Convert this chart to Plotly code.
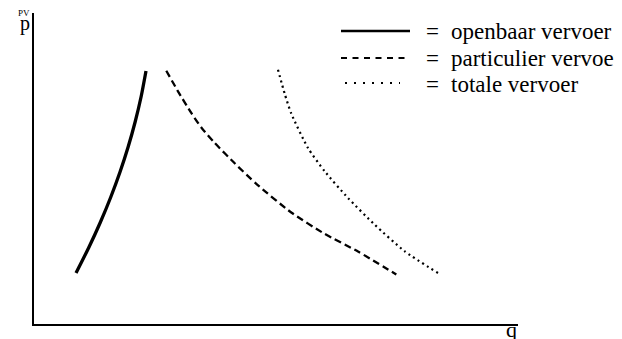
import plotly.graph_objects as go

# Data (arbitrary units; axis range 0..100 on both axes)
q_openbaar = [8.68, 11.30, 13.69, 15.85, 17.77, 19.46, 20.92, 22.15, 23.14]
p_openbaar = [16.40, 24.52, 32.64, 40.76, 48.87, 56.99, 65.11, 73.23, 81.35]

q_particulier = [27.33, 29.75, 32.50, 34.57, 37.33, 41.47, 45.93, 53.16, 60.06, 66.94, 74.86]
p_particulier = [81.45, 74.82, 67.85, 63.18, 58.23, 51.67, 45.08, 35.85, 28.97, 23.31, 15.92]

q_totaal = [50.41, 51.80, 53.16, 56.61, 60.06, 64.88, 70.39, 76.59, 83.47]
p_totaal = [81.77, 74.02, 67.65, 56.59, 49.10, 40.51, 31.93, 23.38, 16.40]

legend_labels = ["openbaar vervoer", "particulier vervoer", "totale vervoer"]

FONT = "Liberation Serif, Times New Roman, serif"

# plot-area geometry in pixels
L, R, T, B = 26, 510, 5, 316
W, H = 622, 339


def px(x):
    return (x - L) / (R - L)


def py(y):
    return (B - y) / (B - T)


fig = go.Figure()
fig.add_trace(go.Scatter(x=q_openbaar, y=p_openbaar, mode="lines",
                         line=dict(color="black", width=3.3, shape="spline", smoothing=0.6),
                         showlegend=False))
fig.add_trace(go.Scatter(x=q_particulier, y=p_particulier, mode="lines",
                         line=dict(color="black", width=2.3, dash="7px,4px", shape="spline", smoothing=0.6),
                         showlegend=False))
fig.add_trace(go.Scatter(x=q_totaal, y=p_totaal, mode="lines",
                         line=dict(color="black", width=2.2, dash="2px,3.5px", shape="spline", smoothing=0.6),
                         showlegend=False))

# legend drawn manually
rows = [23, 50, 75]
dashes = ["solid", "6px,5.5px", "2px,7px"]
widths = [2.7, 2.0, 2.2]
xs = [(333, 402), (333, 402), (337, 392)]
shapes = []
annotations = []
for i, lab in enumerate(legend_labels):
    shapes.append(dict(type="line", xref="paper", yref="paper",
                       x0=px(xs[i][0]), x1=px(xs[i][1]),
                       y0=py(rows[i]), y1=py(rows[i]),
                       line=dict(color="black", width=widths[i], dash=dashes[i])))
    annotations.append(dict(xref="paper", yref="paper", x=px(416), y=py(rows[i] + 1),
                            text="=", showarrow=False, xanchor="left", yanchor="middle",
                            font=dict(family=FONT, size=23, color="black")))
    annotations.append(dict(xref="paper", yref="paper", x=px(441), y=py(rows[i] + 1),
                            text=lab, showarrow=False, xanchor="left", yanchor="middle",
                            font=dict(family=FONT, size=23, color="black")))

annotations.append(dict(xref="paper", yref="paper", x=px(16), y=py(5),
                        text="PV", showarrow=False, xanchor="center", yanchor="middle",
                        font=dict(family=FONT, size=9, color="black")))
annotations.append(dict(xref="paper", yref="paper", x=px(17), y=py(16),
                        text="p", showarrow=False, xanchor="center", yanchor="middle",
                        font=dict(family=FONT, size=20, color="black")))
annotations.append(dict(xref="paper", yref="paper", x=px(503), y=py(321),
                        text="q", showarrow=False, xanchor="center", yanchor="middle",
                        font=dict(family=FONT, size=22, color="black")))

fig.update_layout(
    width=W, height=H,
    margin=dict(l=L, r=W - R, t=T, b=H - B, pad=0),
    paper_bgcolor="white", plot_bgcolor="white",
    shapes=shapes, annotations=annotations,
    xaxis=dict(range=[0, 100], showgrid=False, zeroline=False, showline=True,
               linecolor="black", linewidth=2, tickvals=[100], ticks="inside",
               ticklen=4, tickwidth=1.5, tickcolor="black", showticklabels=False,
               fixedrange=True),
    yaxis=dict(range=[0, 100], showgrid=False, zeroline=False, showline=True,
               linecolor="black", linewidth=2, tickvals=[100], ticks="inside",
               ticklen=6, tickwidth=1.5, tickcolor="black", showticklabels=False,
               fixedrange=True),
)

fig.write_html("out.html")
